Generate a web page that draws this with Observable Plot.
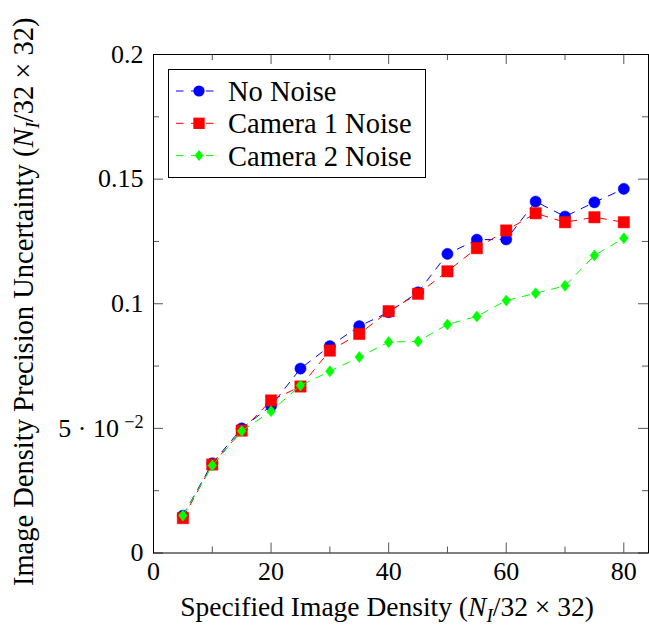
<!DOCTYPE html>
<html><head><meta charset="utf-8">
<script src="https://cdn.jsdelivr.net/npm/d3@7"></script>
<script src="https://cdn.jsdelivr.net/npm/@observablehq/plot@0.6"></script>
<style>body{margin:0;background:#fff} svg{display:block}</style>
</head><body><div id="chart"></div>
<script>
// ---- data ----
const density = [5, 10, 15, 20, 25, 30, 35, 40, 45, 50, 55, 60, 65, 70, 75, 80];
const noNoise = [0.015, 0.036, 0.050, 0.059, 0.074, 0.083, 0.091, 0.0966, 0.1046, 0.120, 0.1257, 0.1258, 0.141, 0.135, 0.1407, 0.1461];
const camera1Noise = [0.014, 0.0355, 0.0491, 0.0612, 0.0668, 0.0812, 0.0879, 0.097, 0.104, 0.113, 0.1223, 0.1294, 0.1363, 0.1327, 0.1347, 0.1327];
const camera2Noise = [0.015, 0.0351, 0.0489, 0.0569, 0.0672, 0.0729, 0.0786, 0.0846, 0.0849, 0.0917, 0.0949, 0.1013, 0.1042, 0.1072, 0.1194, 0.1263];
const seriesNames = ["No Noise", "Camera 1 Noise", "Camera 2 Noise"];
const seriesColors = ["#0000ff", "#ff0000", "#00ff00"];
const xMajorTicks = [0, 20, 40, 60, 80];
const xMinorTicks = [10, 30, 50, 70];
const yMajorTicks = [0, 0.05, 0.1, 0.15, 0.2];
const yMinorTicks = [0.025, 0.075, 0.125, 0.175];
const yTickLabels = ["0", "5 · 10^−2", "0.1", "0.15", "0.2"];
const xTitle = "Specified Image Density (N_I/32 × 32)";
const yTitle = "Image Density Precision Uncertainty (N_I/32 × 32)";

const seriesValues = [noNoise, camera1Noise, camera2Noise];
const rows = [];
seriesNames.forEach((name, i) => seriesValues[i].forEach((v, j) => rows.push({series: name, x: density[j], y: v})));

// ---- layout ----
const W = 649, H = 626, mL = 153, mR = 1, mT = 54, mB = 73.5;
const innerW = W - mL - mR, innerH = H - mT - mB;
const FONT = "'Liberation Serif', 'DejaVu Serif', serif";
const FS = 26, FS_TITLE = 27.5, FS_YTITLE = 28.5, FS_LEGEND = 28.5;
const majorLen = 10, minorLen = 6, tickColor = "#555";

const diamond = {draw(ctx, size) {
  const r = Math.sqrt(size / Math.PI);
  const h = r * 1.2, w = r * 0.95;
  ctx.moveTo(0, -h); ctx.lineTo(w, 0); ctx.lineTo(0, h); ctx.lineTo(-w, 0); ctx.closePath();
}};
const symbols = ["circle", "square", diamond];
const radii = [5.6, 6.4, 4.6];

const seriesMarks = seriesNames.flatMap((name, i) => {
  const data = rows.filter(d => d.series === name);
  return [
    Plot.line(data, {x: "x", y: "y", stroke: seriesColors[i], strokeWidth: 1, strokeDasharray: "7.5,7.5"}),
    Plot.dot(data, {x: "x", y: "y", fill: seriesColors[i], stroke: seriesColors[i], strokeWidth: 0.5, symbol: symbols[i], r: radii[i]})
  ];
});

const tickMarks = [
  Plot.ruleX(xMajorTicks, {x: d => d, insetTop: innerH - majorLen, stroke: tickColor}),
  Plot.ruleX(xMajorTicks, {x: d => d, insetBottom: innerH - majorLen, stroke: tickColor}),
  Plot.ruleX(xMinorTicks, {x: d => d, insetTop: innerH - minorLen, stroke: tickColor}),
  Plot.ruleX(xMinorTicks, {x: d => d, insetBottom: innerH - minorLen, stroke: tickColor}),
  Plot.ruleY(yMajorTicks, {y: d => d, insetRight: innerW - majorLen, stroke: tickColor}),
  Plot.ruleY(yMajorTicks, {y: d => d, insetLeft: innerW - majorLen, stroke: tickColor}),
  Plot.ruleY(yMinorTicks, {y: d => d, insetRight: innerW - minorLen, stroke: tickColor}),
  Plot.ruleY(yMinorTicks, {y: d => d, insetLeft: innerW - minorLen, stroke: tickColor})
];

const labelMarks = [
  Plot.text(xMajorTicks, {x: d => d, frameAnchor: "bottom", dy: 19, text: d => String(d), fontSize: FS, lineAnchor: "middle", textAnchor: "middle", fill: "black"}),
  Plot.text(yMajorTicks, {y: d => d, frameAnchor: "left", dx: -10, textAnchor: "end", text: (d, i) => yTickLabels[i], fontSize: FS, lineAnchor: "middle", fill: "black"}),
  Plot.text([xTitle], {frameAnchor: "bottom", dx: -14, dy: 54, text: d => d, fontSize: FS_TITLE, lineAnchor: "middle", textAnchor: "middle", fill: "black"}),
  Plot.text([yTitle], {frameAnchor: "left", dx: -130, dy: -2, rotate: -90, text: d => d, fontSize: FS_YTITLE, lineAnchor: "middle", textAnchor: "middle", fill: "black"})
];

const svg = Plot.plot({
  width: W, height: H,
  marginLeft: mL, marginRight: mR, marginTop: mT, marginBottom: mB,
  style: {fontFamily: FONT, fontSize: FS + "px", background: "white", color: "black"},
  x: {domain: [0, 84.2], axis: null},
  y: {domain: [0, 0.2], axis: null},
  marks: [
    ...seriesMarks,
    ...tickMarks,
    Plot.frame({stroke: "black", strokeWidth: 1}),
    ...labelMarks
  ]
});
document.getElementById("chart").appendChild(svg);

// ---- rich text: italic N with subscript I, superscript exponent ----
d3.select(svg).selectAll("text").each(function() {
  const el = d3.select(this);
  const s = this.textContent;
  if (s.includes("N_I")) {
    const fs = parseFloat(el.attr("font-size")) || FS_TITLE;
    const [a, b] = s.split("N_I");
    el.text("");
    el.append("tspan").text(a);
    el.append("tspan").attr("font-style", "italic").text("N");
    el.append("tspan").attr("font-style", "italic").attr("font-size", fs * 0.7).attr("dy", 6).text("I");
    el.append("tspan").attr("dy", -6).text(b);
  } else if (s.includes("^")) {
    const [a, b] = s.split("^");
    el.text("");
    el.append("tspan").text(a + "\u2009");
    el.append("tspan").attr("font-size", FS * 0.7).attr("dy", -9).text(b);
  }
});

// ---- legend ----
const lg = d3.select(svg).append("g").attr("font-family", FONT).attr("font-size", FS_LEGEND).attr("text-anchor", "start");
lg.append("rect").attr("x", 168.5).attr("y", 69.5).attr("width", 257).attr("height", 108)
  .attr("fill", "white").attr("stroke", "black");
const d3Symbols = [d3.symbolCircle, d3.symbolSquare, diamond];
seriesNames.forEach((name, i) => {
  const cy = 91 + i * 32.3;
  lg.append("line").attr("x1", 176).attr("x2", 218).attr("y1", cy).attr("y2", cy)
    .attr("stroke", seriesColors[i]).attr("stroke-width", 1).attr("stroke-dasharray", "7.5,7.5");
  lg.append("path").attr("d", d3.symbol(d3Symbols[i], Math.PI * radii[i] * radii[i])())
    .attr("transform", `translate(199,${cy})`).attr("fill", seriesColors[i]);
  lg.append("text").attr("x", 228).attr("y", cy).attr("dy", "0.35em").attr("fill", "black").text(name);
});
</script>
</body></html>
